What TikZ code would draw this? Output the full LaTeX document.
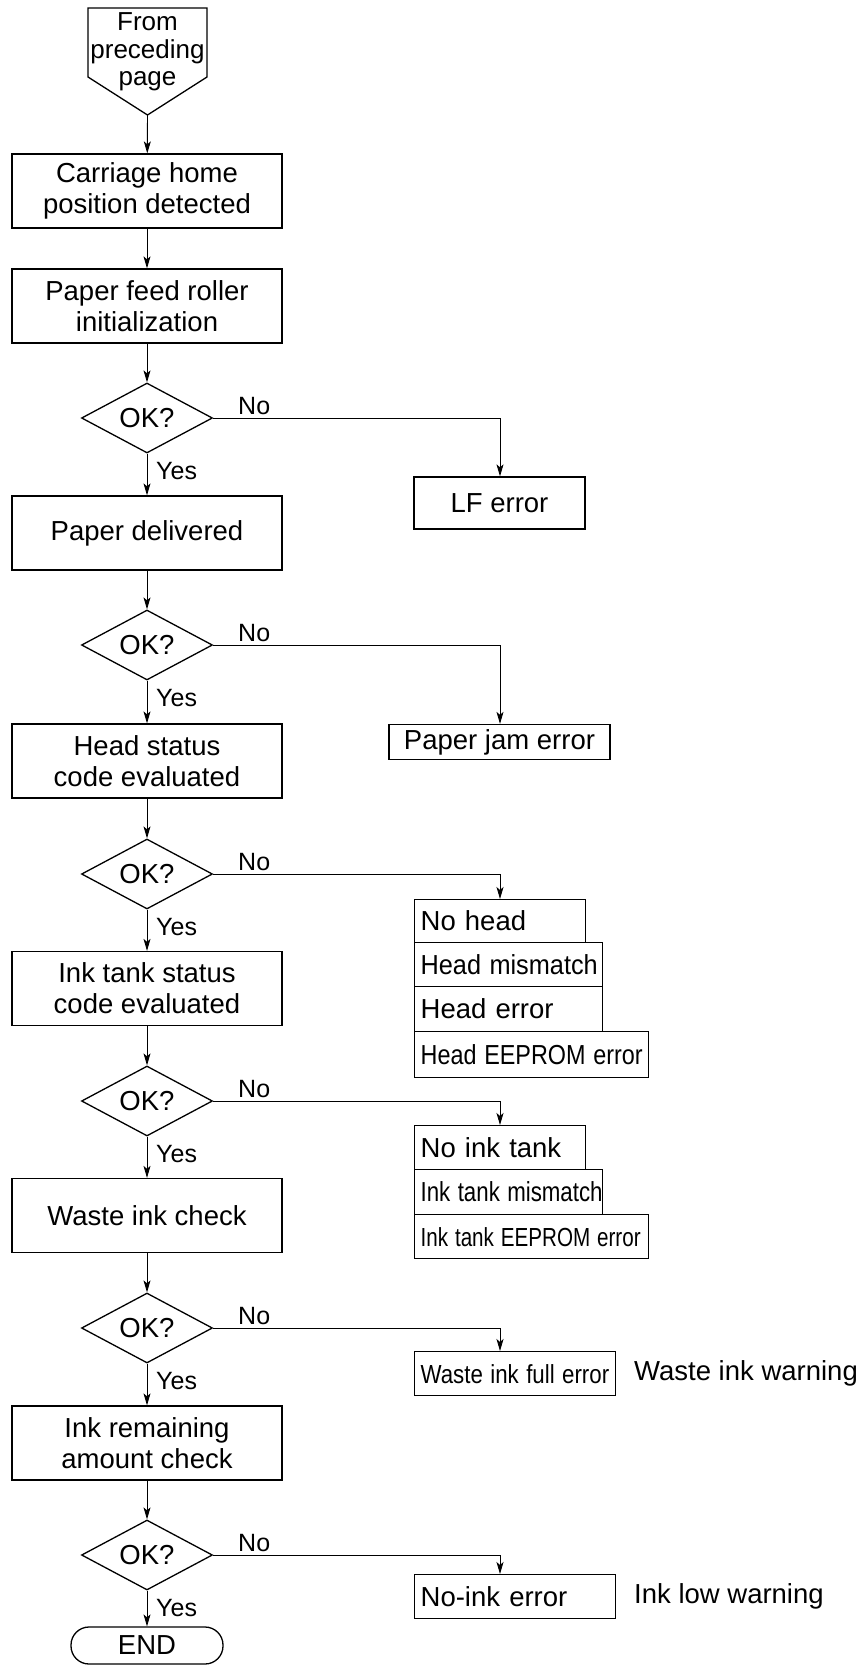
\documentclass[tikz,border=0pt]{standalone}
\usepackage{fontspec}
\setmainfont{Liberation Sans}
\usetikzlibrary{arrows.meta,shapes.geometric,calc}
\newcommand{\fmain}{\fontsize{27.5}{31}\selectfont}
\newcommand{\fsmall}{\fontsize{26}{28.5}\selectfont}
\newcommand{\flbl}{\fontsize{25}{28}\selectfont}
\tikzset{
  box/.style={draw, line width=1.3pt, font=\fmain, align=center, inner sep=2pt},
  proc/.style={box, minimum width=270pt, minimum height=74pt},
  dec/.style={draw, diamond, aspect=1.87, inner sep=0pt, minimum width=131pt,
              minimum height=70pt, line width=1.3pt, font=\fmain},
  stk/.style={draw, line width=1.3pt, font=\fmain, align=left, inner ysep=0pt,
              inner xsep=6pt, anchor=north west},
  term/.style={draw, line width=1.3pt, font=\fmain, rounded corners=18pt,
               minimum width=152pt, minimum height=37pt, inner sep=0pt},
  lbl/.style={font=\flbl, inner sep=0pt},
  arr/.style={line width=0.9pt, -{Stealth[length=12pt,width=7pt,inset=3pt]}},
}
\begin{document}
\begin{tikzpicture}[x=1pt,y=-1pt]
\useasboundingbox (0,0) rectangle (866,1670);

% off-page connector at the top
\draw[line width=1.3pt] (88,8) -- (207,8) -- (207,77) -- (147.5,115) -- (88,77) -- cycle;
\node[font=\fsmall, align=center, inner sep=0pt] (from) at (147.5,52)
  {From\\[-1pt]preceding\\[-1pt]page};
\coordinate (fromtip) at (147.5,115);

% main column
\node[proc] (b1) at (147,191) {Carriage home\\position detected};
\node[proc] (b2) at (147,306) {Paper feed roller\\initialization};
\node[dec]  (d1) at (147,418) {OK?};
\node[proc] (b3) at (147,533) {Paper delivered};
\node[dec]  (d2) at (147,645) {OK?};
\node[proc] (b4) at (147,761) {Head status\\code evaluated};
\node[dec]  (d3) at (147,874) {OK?};
\node[proc] (b5) at (147,988.5) {Ink tank status\\code evaluated};
\node[dec]  (d4) at (147,1101) {OK?};
\node[proc] (b6) at (147,1215.5) {Waste ink check};
\node[dec]  (d5) at (147,1328) {OK?};
\node[proc] (b7) at (147,1443) {Ink remaining\\amount check};
\node[dec]  (d6) at (147,1555) {OK?};
\node[term] (end) at (147,1645.5) {END};

% error column
\coordinate (bx) at (500,0);
\node[box, minimum width=171pt, minimum height=52pt] (lf) at (499.5,503) {LF error};
\node[box, minimum width=221pt, minimum height=35pt] (jam) at (499.5,742) {Paper jam error};

\node[stk, text width=159pt, minimum height=43pt] (nh)  at (414,899)  {No head};
\node[stk, text width=176pt, minimum height=44pt] (hm)  at (414,942)  {\scalebox{0.92}[1]{Head mismatch}};
\node[stk, text width=176pt, minimum height=45pt] (he)  at (414,986)  {Head error};
\node[stk, text width=222pt, minimum height=46pt] (hee) at (414,1031) {\scalebox{0.85}[1]{Head EEPROM error}};

\node[stk, text width=159pt, minimum height=44pt] (nt)  at (414,1125) {No ink tank};
\node[stk, text width=176pt, minimum height=45pt] (tm)  at (414,1169) {\scalebox{0.81}[1]{Ink tank mismatch}};
\node[stk, text width=222pt, minimum height=44pt] (tee) at (414,1214) {\scalebox{0.75}[0.95]{Ink tank EEPROM error}};

\node[stk, text width=189pt, minimum height=44pt] (wf)  at (414,1351) {\scalebox{0.81}[0.95]{Waste ink full error}};
\node[font=\fmain, anchor=west, inner sep=0pt] (ww) at (634,1373) {Waste ink warning};

\node[stk, text width=189pt, minimum height=44pt] (ni)  at (414,1574) {No-ink error};
\node[font=\fmain, anchor=west, inner sep=0pt] (il) at (634,1596) {Ink low warning};

% main flow
\draw[arr] (fromtip) -- (b1);
\draw[arr] (b1) -- (b2);
\draw[arr] (b2) -- (d1);
\draw[arr] (d1) -- (b3);
\draw[arr] (b3) -- (d2);
\draw[arr] (d2) -- (b4);
\draw[arr] (b4) -- (d3);
\draw[arr] (d3) -- (b5);
\draw[arr] (b5) -- (d4);
\draw[arr] (d4) -- (b6);
\draw[arr] (b6) -- (d5);
\draw[arr] (d5) -- (b7);
\draw[arr] (b7) -- (d6);
\draw[arr] (d6) -- (end);

% "No" branches
\draw[arr] (d1.east) -| (bx |- lf.north);
\draw[arr] (d2.east) -| (bx |- jam.north);
\draw[arr] (d3.east) -| (bx |- nh.north);
\draw[arr] (d4.east) -| (bx |- nt.north);
\draw[arr] (d5.east) -| (bx |- wf.north);
\draw[arr] (d6.east) -| (bx |- ni.north);

% branch labels
\foreach \d in {d1,d2,d3,d4,d5,d6}{
  \node[lbl, anchor=west] at ($(\d)+(91,-12)$) {No};
  \node[lbl, anchor=west] at ($(\d)+(9,53)$) {Yes};
}
\end{tikzpicture}
\end{document}
